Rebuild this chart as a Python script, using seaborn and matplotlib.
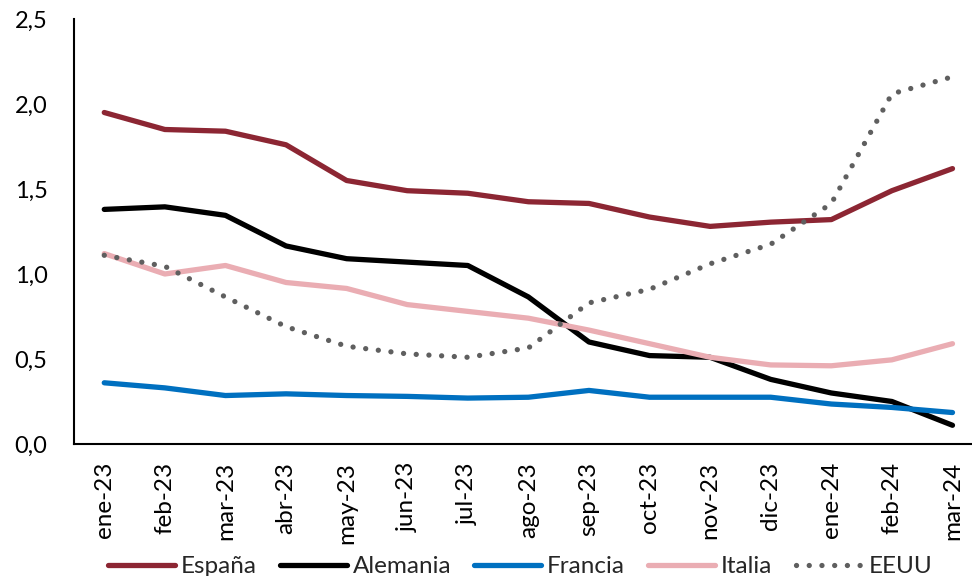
import matplotlib
matplotlib.use("Agg")
import matplotlib.pyplot as plt
import seaborn as sns
import pandas as pd
from matplotlib.ticker import FuncFormatter

months = ["ene-23", "feb-23", "mar-23", "abr-23", "may-23", "jun-23", "jul-23",
          "ago-23", "sep-23", "oct-23", "nov-23", "dic-23", "ene-24", "feb-24", "mar-24"]

espana = [1.95, 1.85, 1.84, 1.76, 1.55, 1.49, 1.475, 1.425, 1.415, 1.335, 1.28, 1.305, 1.32, 1.49, 1.62]
alemania = [1.38, 1.395, 1.345, 1.165, 1.09, 1.07, 1.05, 0.865, 0.60, 0.52, 0.51, 0.38, 0.30, 0.25, 0.11]
francia = [0.36, 0.33, 0.285, 0.295, 0.285, 0.28, 0.27, 0.275, 0.315, 0.275, 0.275, 0.275, 0.235, 0.215, 0.185]
italia = [1.12, 1.00, 1.05, 0.95, 0.915, 0.82, 0.78, 0.74, 0.67, 0.59, 0.51, 0.465, 0.46, 0.495, 0.59]
eeuu = [1.11, 1.045, 0.865, 0.69, 0.575, 0.53, 0.51, 0.565, 0.83, 0.91, 1.06, 1.175, 1.415, 2.06, 2.16]

series = {
    "España": espana,
    "Alemania": alemania,
    "Francia": francia,
    "Italia": italia,
    "EEUU": eeuu,
}

styles = {
    "España": dict(color="#8C2633", linestyle="-"),
    "Alemania": dict(color="#000000", linestyle="-"),
    "Francia": dict(color="#0070C0", linestyle="-"),
    "Italia": dict(color="#EAADB3", linestyle="-"),
    "EEUU": dict(color="#5F5F5F", linestyle=(0, (0.01, 2.4))),
}

sns.set_theme(style="white")
plt.rcParams["font.family"] = ["Lato", "DejaVu Sans"]

fig = plt.figure(figsize=(9.72, 5.76), dpi=100)
ax = fig.add_axes([0.0761, 0.2292, 0.935, 0.7378])

pos = list(range(len(months)))
for name, vals in series.items():
    df = pd.DataFrame({"x": pos, "y": vals})
    st = styles[name]
    sns.lineplot(data=df, x="x", y="y", ax=ax, color=st["color"], linewidth=3.8,
                 linestyle=st["linestyle"], label=name, sort=False,
                 dash_capstyle="round", solid_capstyle="round", solid_joinstyle="round")

ax.set_xlim(-0.5, len(months) - 0.5)
ax.set_ylim(0, 2.5)
ax.set_yticks([0, 0.5, 1.0, 1.5, 2.0, 2.5])
ax.yaxis.set_major_formatter(FuncFormatter(lambda v, _: f"{v:.1f}".replace(".", ",")))
ax.set_xticks(pos)
ax.set_xticklabels(months, rotation=90)
ax.set_xlabel("")
ax.set_ylabel("")

ax.tick_params(axis="y", length=0, pad=19, labelsize=17, colors="#000000")
ax.tick_params(axis="x", length=0, pad=13, labelsize=17.5, colors="#000000")

for side in ["top", "right"]:
    ax.spines[side].set_visible(False)
for side in ["left", "bottom"]:
    ax.spines[side].set_color("#000000")
    ax.spines[side].set_linewidth(1.5)

handles, labels = ax.get_legend_handles_labels()
ax.get_legend().remove()
fig.legend(handles, labels, loc="center", bbox_to_anchor=(0.535, 0.016), ncol=5,
           frameon=False, fontsize=17.5, handlelength=2.75, handletextpad=0.25,
           columnspacing=0.95)

fig.savefig("out.png", dpi=100)
